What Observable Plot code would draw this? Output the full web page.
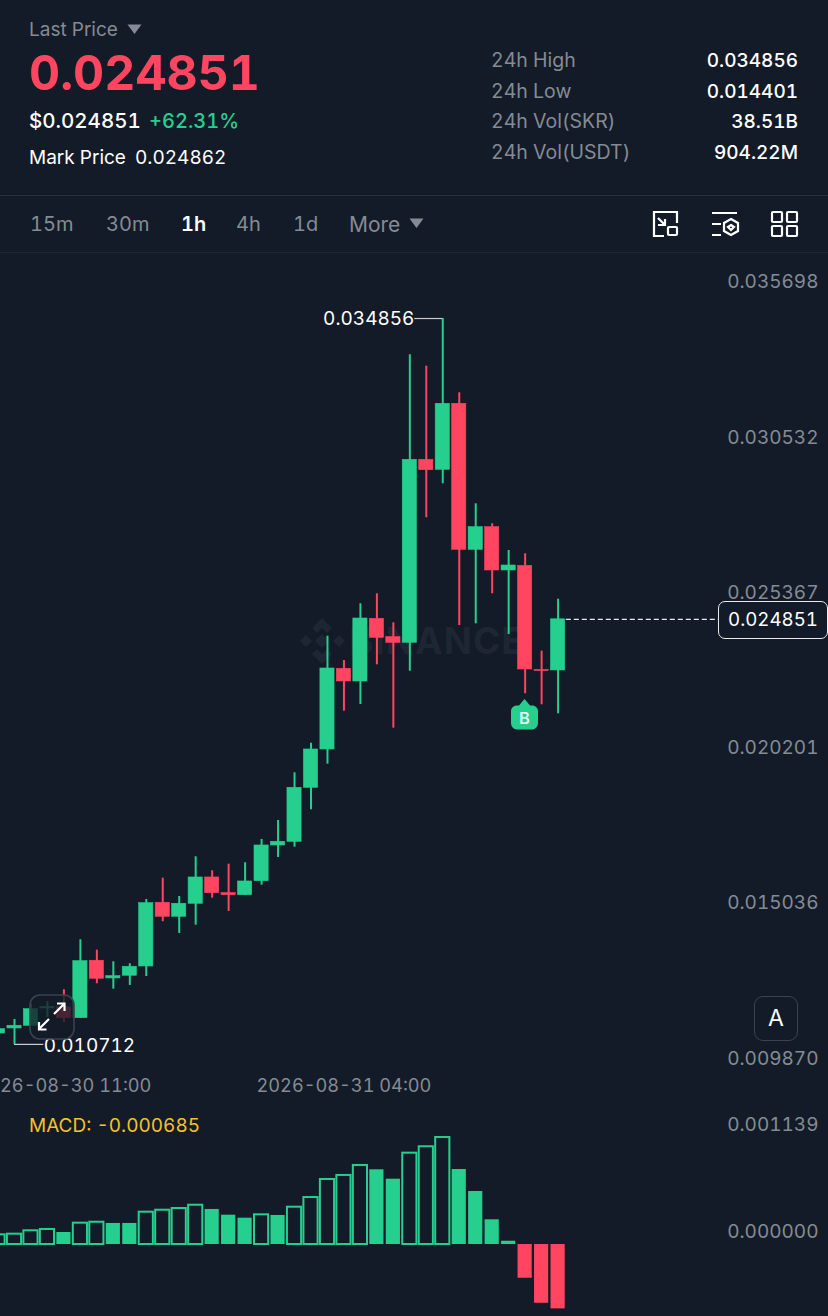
<!DOCTYPE html>
<html>
<head>
<meta charset="utf-8">
<script src="https://cdn.jsdelivr.net/npm/d3@7"></script>
<script src="https://cdn.jsdelivr.net/npm/@observablehq/plot@0.6"></script>
<style>
  html,body{margin:0;padding:0;background:#131b28;}
  #page{position:relative;width:828px;height:1316px;overflow:hidden;background:#131b28;font-family:Inter,"Noto Sans",sans-serif;color:#fff;font-variant-numeric:tabular-nums;font-feature-settings:"tnum" 1;}
  .t{position:absolute;transform:translateY(-50%);white-space:nowrap;line-height:1;}
  .r{transform:translate(-100%,-50%);}
  .g{color:#858b94;}
  .line{position:absolute;left:0;width:828px;height:1px;background:#25313a;}
  .layer{position:absolute;left:0;}
  .layer svg{display:block;overflow:hidden;}
  .layer text{font-variant-numeric:tabular-nums;font-feature-settings:"tnum" 1;}
  .over{position:absolute;}
</style>
</head>
<body>
<div id="page">
  <div class="t g" style="left:29px;top:29px;font-size:19px">Last Price</div>
  <svg class="over" style="left:127px;top:24px" width="15" height="11"><path d="M0.5 0.5H14.5L7.5 10Z" fill="#858b94"/></svg>
  <div class="t" style="left:29px;top:73px;font-size:48.2px;font-weight:700;color:#ff4560;letter-spacing:0">0.024851</div>
  <div class="t" style="left:29px;top:120.5px;font-size:20.5px;font-weight:500">$0.024851</div>
  <div class="t" style="left:149px;top:120.5px;font-size:20px;font-weight:500;color:#26cf8e">+62.31%</div>
  <div class="t" style="left:29px;top:157px;font-size:19px">Mark Price</div>
  <div class="t" style="left:135px;top:157px;font-size:19px">0.024862</div>

  <div class="t g" style="left:491px;top:61px;font-size:19.5px">24h High</div>
  <div class="t g" style="left:491px;top:92px;font-size:19.5px">24h Low</div>
  <div class="t g" style="left:491px;top:122px;font-size:19.5px">24h Vol(SKR)</div>
  <div class="t g" style="left:491px;top:153px;font-size:19.5px">24h Vol(USDT)</div>
  <div class="t r" style="left:798px;top:60px;font-size:19px;font-weight:500">0.034856</div>
  <div class="t r" style="left:798px;top:91px;font-size:19px;font-weight:500">0.014401</div>
  <div class="t r" style="left:798px;top:121px;font-size:19px;font-weight:500">38.51B</div>
  <div class="t r" style="left:798px;top:152px;font-size:19px;font-weight:500">904.22M</div>

  <div class="line" style="top:195px"></div>
  <div class="t g" style="left:30px;top:224px;font-size:20px">15m</div>
  <div class="t g" style="left:106px;top:224px;font-size:20px">30m</div>
  <div class="t" style="left:181px;top:224px;font-size:20px;font-weight:600">1h</div>
  <div class="t g" style="left:236px;top:224px;font-size:20px">4h</div>
  <div class="t g" style="left:293px;top:224px;font-size:20px">1d</div>
  <div class="t g" style="left:349px;top:224px;font-size:21px">More</div>
  <svg class="over" style="left:409px;top:218px" width="15" height="11"><path d="M0.5 0.5H14.5L7.5 10Z" fill="#858b94"/></svg>
  <svg class="over" style="left:650px;top:209px" width="150" height="30" fill="none" stroke="#fff" stroke-width="2.2">
    <path d="M16 3H4V27H14"/><path d="M4 3H27V14"/><rect x="18" y="18" width="9" height="8" rx="1"/><path d="M8 9L15 16M8 16H15V10"/>
    <path d="M62 4H87M62 15H71M62 26H71"/><path d="M81 10L88 14V22L81 26L74 22V14Z"/><path d="M81 16L84 18L81 21L78 18Z"/>
    <rect x="122" y="3" width="10" height="10" rx="1"/><rect x="137" y="3" width="10" height="10" rx="1"/><rect x="122" y="17" width="10" height="10" rx="1"/><rect x="137" y="17" width="10" height="10" rx="1"/>
  </svg>
  <div class="line" style="top:252px;background:#1c2632"></div>

  <!-- watermark -->
  <svg class="over" style="left:298px;top:617px" width="50" height="50" fill="#1d2633">
    <path d="M24 1L34 11L29 16L24 11L19 16L14 11Z"/><path d="M9 16L15 22L9 28L3 22Z" transform="translate(-1,2)"/><path d="M41 18L47 24L41 30L35 24Z"/><path d="M24 17L31 24L24 31L17 24Z"/><path d="M14 37L19 32L24 37L29 32L34 37L24 47Z"/>
  </svg>
  <div class="t" style="left:349px;top:640px;font-size:37px;font-weight:700;color:#1d2633;letter-spacing:1px">BINANCE</div>

  <div id="main" class="layer" style="top:252px"></div>
  <div id="macd" class="layer" style="top:1110px"></div>

  <div class="t" style="left:29px;top:1125px;font-size:19px;color:#f5c02c">MACD: -0.000685</div>

  <!-- last price tag -->
  <div class="over" style="left:718px;top:601px;width:108px;height:36px;border:1px solid #e8eaed;border-radius:7px;background:#131b28;text-align:center;line-height:36px;font-size:18.7px">0.024851</div>

  <!-- buy marker -->
  <svg class="over" style="left:510px;top:698px" width="29" height="33"><path d="M14.5 1L20 7.5H22C25.5 7.5 28 10 28 13.5V25C28 28.5 25.5 31.5 22 31.5H7C3.5 31.5 1 28.5 1 25V13.5C1 10 3.5 7.5 7 7.5H9Z" fill="#26cf8e"/><text x="14.5" y="25.5" text-anchor="middle" font-size="16.5" font-family="Inter" font-weight="500" fill="#fff">B</text></svg>

  <!-- expand control -->
  <svg class="over" style="left:29px;top:994px" width="46" height="46" fill="none">
    <rect x="1" y="1" width="44" height="44" rx="10" fill="#131b28" fill-opacity=".78" stroke="#3a424e" stroke-width="1.6"/>
    <path d="M25 20L35 10M28 9.5H35.5V17M20 25L10 35M10 28V35.5H17.5" stroke="#fff" stroke-width="2.2"/>
  </svg>

  <!-- auto scale control -->
  <div class="over" style="left:754px;top:996px;width:42px;height:43px;border:1.5px solid #3a424e;border-radius:9px;text-align:center;line-height:43px;font-size:23px">A</div>
</div>

<script>
// Hourly candles, oldest first
const firstHour = "2026-08-30T07:00:00Z";
const opens  = [.011075,.011242,.011331,.011907,.011950,.011584,.013494,.012905,.012995,.013304,.015423,.014957,.015389,.016264,.015742,.015675,.016141,.017328,.017451,.019247,.020521,.023205,.022783,.024868,.024256,.024070,.030157,.029824,.032019,.027163,.027915,.026475,.026631,.023166,.023149];
const highs  = [.011219,.011541,.012040,.012140,.012529,.014192,.013846,.013460,.013394,.015532,.016241,.015632,.016952,.016487,.016706,.016753,.017528,.018160,.019746,.020731,.024290,.023481,.025367,.025700,.024735,.033649,.033270,.034856,.032385,.028693,.028028,.027140,.027030,.023791,.025520];
const lows   = [.011075,.010712,.011331,.011608,.011441,.011584,.012728,.012549,.012672,.012971,.014791,.014401,.014678,.015576,.015133,.015675,.016008,.016929,.017272,.018516,.020032,.021795,.022018,.023338,.021230,.023126,.028228,.029358,.024645,.024702,.025700,.024346,.022374,.022008,.021709];
const closes = [.011219,.011331,.011884,.011957,.011584,.013480,.012895,.012981,.013294,.015409,.014957,.015389,.016264,.015742,.015675,.016131,.017328,.017451,.019247,.020521,.023215,.022783,.024878,.024236,.024070,.030157,.029811,.032019,.027163,.027915,.026475,.026641,.023182,.023132,.024851];
const macdHist = [.000103,.000110,.000146,.000160,.000128,.000227,.000237,.000224,.000224,.000344,.000365,.000383,.000418,.000373,.000312,.000280,.000316,.000309,.000397,.000500,.000692,.000735,.000841,.000795,.000695,.000972,.001040,.001139,.000798,.000564,.000263,.000035,-.000359,-.000625,-.000685];

const priceTicks = [.035698,.030532,.025367,.020201,.015036,.009870];
const macdTicks  = [.001139,0];
const dateTicks  = ["2026-08-30T11:00:00Z","2026-08-31T04:00:00Z"].map(s => new Date(s));
const xDomain    = [new Date("2026-08-30T07:09:00Z"), new Date("2026-09-01T09:25:00Z")];
const lastPrice = .024851, dayHigh = .034856, dayLow = .010712;

const GREEN = "#26cf8e", RED = "#ff4560", GREY = "#858b94", FONT = "Inter";
const H = 3600e3, half = 0.43;
const at = (t, h) => new Date(+t + h * H);
const hour = i => at(new Date(firstHour), i);

const candles = opens.map((o, i) => ({t: hour(i), o, h: highs[i], l: lows[i], c: closes[i], up: closes[i] >= o}));
const bars = macdHist.map((v, i) => ({t: hour(i), v, hollow: i === 0 || v > macdHist[i - 1]}));
const highC = candles.find(d => d.h === dayHigh), lowC = candles.find(d => d.l === dayLow), lastC = candles[candles.length - 1];
const colorOf = d => d.up ? GREEN : RED;
const fmtDate = d3.utcFormat("%Y-%m-%d %H:%M");
const style = {background: "transparent", fontFamily: FONT, overflow: "hidden"};

const main = Plot.plot({
  width: 828, height: 858,
  marginLeft: 0, marginRight: 0, marginTop: 40.7, marginBottom: 40.8,
  style,
  x: {type: "utc", domain: xDomain},
  y: {domain: [priceTicks[5], priceTicks[0]]},
  marks: [
    Plot.ruleX(candles, {x: "t", y1: "l", y2: "h", stroke: colorOf, strokeWidth: 2}),
    Plot.rect(candles, {x1: d => at(d.t, -half), x2: d => at(d.t, half), y1: "o", y2: "c", fill: colorOf, stroke: colorOf, strokeWidth: 0.6}),
    Plot.ruleY([dayHigh], {x1: at(highC.t, -1.7), x2: highC.t, stroke: "#c8ccd2", strokeWidth: 1.2}),
    Plot.text([dayHigh], {x: at(highC.t, -1.72), y: d => d, text: d => d.toFixed(6), textAnchor: "end", fill: "#fff", fontSize: 19, dy: 0.5}),
    Plot.ruleY([dayLow], {x1: lowC.t, x2: at(lowC.t, 1.78), stroke: "#c8ccd2", strokeWidth: 1.2}),
    Plot.text([dayLow], {x: at(lowC.t, 1.78), y: d => d, text: d => d.toFixed(6), textAnchor: "start", fill: "#fff", fontSize: 19, dy: 1.5}),
    Plot.ruleY([lastPrice], {x1: at(lastC.t, 0.5), x2: at(lastC.t, 9.8), stroke: "#e8eaed", strokeWidth: 1.2, strokeDasharray: "5,3"}),
    Plot.axisY({ticks: priceTicks, tickFormat: d => d.toFixed(6), anchor: "right", tickSize: 0, tickPadding: 0, dx: -10, dy: -11, textAnchor: "end", fill: GREY, fontSize: 19, label: null}),
    Plot.axisX({ticks: dateTicks, tickFormat: fmtDate, anchor: "bottom", tickSize: 0, tickPadding: 0, dy: 9, fill: GREY, fontSize: 18.2, label: null, textOverflow: null})
  ]
});
document.getElementById("main").append(main);

const macd = Plot.plot({
  width: 828, height: 206,
  marginLeft: 0, marginRight: 0, marginTop: 0, marginBottom: 0,
  style,
  x: {type: "utc", domain: xDomain, axis: null},
  y: {domain: [-.000766, .001426]},
  marks: [
    Plot.rect(bars.filter(d => !d.hollow), {x1: d => at(d.t, -half), x2: d => at(d.t, half), y1: 0, y2: "v", fill: d => d.v >= 0 ? GREEN : RED}),
    Plot.rect(bars.filter(d => d.hollow), {x1: d => at(d.t, -half), x2: d => at(d.t, half), y1: 0, y2: "v", fill: "none", stroke: GREEN, strokeWidth: 2}),
    Plot.axisY({ticks: macdTicks, tickFormat: d => d.toFixed(6), anchor: "right", tickSize: 0, tickPadding: 0, dx: -10, dy: -13, textAnchor: "end", fill: GREY, fontSize: 19, label: null})
  ]
});
document.getElementById("macd").append(macd);
</script>
</body>
</html>
